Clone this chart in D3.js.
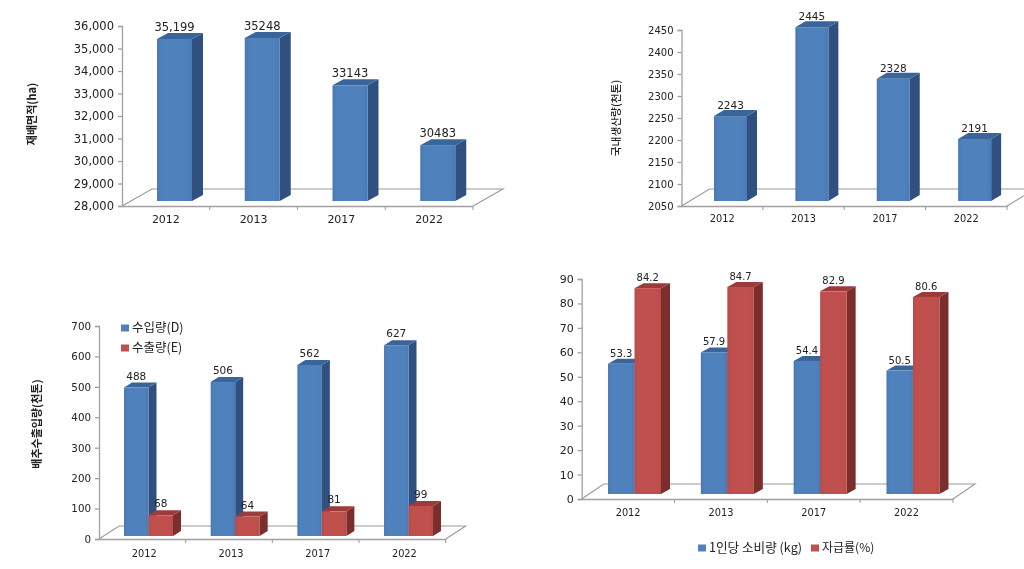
<!DOCTYPE html>
<html>
<head>
<meta charset="utf-8">
<script src="https://cdn.jsdelivr.net/npm/d3@7"></script>
<style>
  html, body { margin: 0; padding: 0; background: #fff; }
  svg { display: block; filter: blur(0.4px); }
  text { fill: #222; font-family: "DejaVu Sans", sans-serif; }
  .kr { font-family: "Noto Sans CJK KR", sans-serif; }
</style>
</head>
<body>
<svg id="chart" width="1024" height="569"></svg>
<script>
const years = ['2012', '2013', '2017', '2022'];

const areaValues = [35199, 35248, 33143, 30483];
const areaLabels = ['35,199', '35248', '33143', '30483'];
const areaTicks = [28000, 29000, 30000, 31000, 32000, 33000, 34000, 35000, 36000];

const outputValues = [2243, 2445, 2328, 2191];
const outputTicks = [2050, 2100, 2150, 2200, 2250, 2300, 2350, 2400, 2450];

const importValues = [488, 506, 562, 627];
const exportValues = [68, 64, 81, 99];
const tradeTicks = [0, 100, 200, 300, 400, 500, 600, 700];

const consumptionValues = [53.3, 57.9, 54.4, 50.5];
const selfSufficiencyValues = [84.2, 84.7, 82.9, 80.6];
const shareTicks = [0, 10, 20, 30, 40, 50, 60, 70, 80, 90];

const blue = { front: '#4f81bd', edge: '#4a7ab4', side: '#30507f', top: '#3a659b', id: 'gradBlue' };
const red = { front: '#c0504d', edge: '#b84b48', side: '#7c2e2c', top: '#9c3b39', id: 'gradRed' };

const svg = d3.select('#chart');
const defs = svg.append('defs');

[blue, red].forEach(c => {
  const g = defs.append('linearGradient').attr('id', c.id);
  g.append('stop').attr('offset', '0%').attr('stop-color', c.edge);
  g.append('stop').attr('offset', '15%').attr('stop-color', c.front);
  g.append('stop').attr('offset', '85%').attr('stop-color', c.front);
  g.append('stop').attr('offset', '100%').attr('stop-color', c.edge);
});

function drawChart(cfg) {
  const g = svg.append('g');

  const x = d3.scaleBand().domain(years).range([cfg.left, cfg.right]);
  const yAxisScale = d3.scaleLinear().domain(cfg.domain).range([cfg.bottom, cfg.top]);
  // bars stand on the floor, a little above the axis line
  const y = d3.scaleLinear().domain(cfg.domain).range([cfg.bottom - cfg.lift, cfg.top - cfg.lift]);

  // floor
  const floor = d3.path();
  floor.moveTo(cfg.left, cfg.bottom);
  floor.lineTo(cfg.left + cfg.floorX, cfg.bottom - cfg.floorY);
  floor.lineTo(cfg.right + cfg.floorX, cfg.bottom - cfg.floorY);
  floor.lineTo(cfg.right, cfg.bottom);
  g.append('path').attr('d', floor.toString())
    .attr('fill', 'none').attr('stroke', '#9a9a9a').attr('stroke-width', 1.1);

  // y axis
  const yAxis = g.append('g')
    .attr('transform', `translate(${cfg.left},0)`)
    .call(d3.axisLeft(yAxisScale).tickValues(cfg.ticks).tickSize(4).tickPadding(4)
      .tickFormat(cfg.commaTicks ? d3.format(',') : d3.format('d')));
  yAxis.selectAll('text').style('font-size', cfg.tickSize + 'px');
  yAxis.selectAll('line, path').attr('stroke', '#a0a0a0').attr('stroke-width', 1.3);

  // x axis, tick marks sit between the categories
  const xAxis = g.append('g')
    .attr('transform', `translate(0,${cfg.bottom})`)
    .call(d3.axisBottom(x).tickSize(0).tickPadding(cfg.xPad));
  xAxis.selectAll('text').style('font-size', cfg.xSize + 'px').attr('dx', cfg.xShift || 0);
  xAxis.select('path').attr('stroke', '#a0a0a0').attr('stroke-width', 1.3);
  xAxis.selectAll('.sep').data(years).join('line').attr('class', 'sep')
    .attr('x1', d => x(d) + x.step()).attr('x2', d => x(d) + x.step())
    .attr('y1', 0).attr('y2', 4)
    .attr('stroke', '#a0a0a0').attr('stroke-width', 1.1);

  // bars
  cfg.series.forEach((s, i) => {
    const barX = d => x(d) + cfg.barOffset + i * cfg.barW;
    const rows = years.map((year, k) => ({ year, value: s.values[k] }));
    const base = y(cfg.domain[0]);
    const bars = g.append('g');

    bars.selectAll('.side').data(rows).join('path').attr('class', 'side')
      .attr('fill', s.color.side)
      .attr('d', d => {
        const x1 = barX(d.year) + cfg.barW, t = y(d.value);
        return `M${x1},${t}l${cfg.dx},${-cfg.dy}V${base - cfg.dy}l${-cfg.dx},${cfg.dy}Z`;
      });
    bars.selectAll('.top').data(rows).join('path').attr('class', 'top')
      .attr('fill', s.color.top)
      .attr('d', d => {
        const x0 = barX(d.year), t = y(d.value);
        return `M${x0},${t}l${cfg.dx},${-cfg.dy}h${cfg.barW}l${-cfg.dx},${cfg.dy}Z`;
      });
    bars.selectAll('.front').data(rows).join('rect').attr('class', 'front')
      .attr('x', d => barX(d.year)).attr('y', d => y(d.value))
      .attr('width', cfg.barW).attr('height', d => base - y(d.value))
      .attr('fill', `url(#${s.color.id})`);
  });

  // value labels go last so they stay on top of neighbouring bars
  cfg.series.forEach((s, i) => {
    const rows = years.map((year, k) => ({ year, value: s.values[k], label: s.labels ? s.labels[k] : String(s.values[k]) }));
    g.append('g').selectAll('text').data(rows).join('text')
      .attr('x', d => x(d.year) + cfg.barOffset + i * cfg.barW + cfg.barW / 2)
      .attr('y', d => y(d.value) - cfg.dy - cfg.labelGap)
      .attr('text-anchor', 'middle')
      .style('font-size', cfg.valueSize + 'px')
      .text(d => d.label);
  });

  // y title
  if (cfg.title) {
    g.append('text').attr('class', 'kr')
      .attr('transform', `translate(${cfg.title.x},${cfg.title.y}) rotate(-90)`)
      .attr('text-anchor', 'middle')
      .style('font-size', cfg.title.size + 'px')
      .style('font-weight', cfg.title.weight)
      .text(cfg.title.text);
  }

  // legend
  (cfg.legend || []).forEach(l => {
    g.append('rect').attr('x', l.x).attr('y', l.y - 3.5).attr('width', 8).attr('height', 7)
      .attr('fill', l.color.front);
    g.append('text').attr('class', 'kr')
      .attr('x', l.x + 11).attr('y', l.y + 4)
      .style('font-size', l.size + 'px')
      .text(l.text);
  });
}

drawChart({
  left: 122, right: 473, top: 26, bottom: 206,
  floorX: 30, floorY: 17, lift: 5,
  domain: [28000, 36000], ticks: areaTicks, commaTicks: true,
  tickSize: 11.5, xSize: 11, xPad: 9, valueSize: 11.5, labelGap: 2,
  barOffset: 35, barW: 35, dx: 11, dy: 6,
  series: [{ values: areaValues, labels: areaLabels, color: blue }],
  title: { text: '재배면적(ha)', x: 36, y: 114, size: 11, weight: 700 }
});

drawChart({
  left: 681.5, right: 1007, top: 30, bottom: 206,
  floorX: 28, floorY: 17, lift: 5,
  domain: [2050, 2450], ticks: outputTicks,
  tickSize: 10, xSize: 9.8, xPad: 9, valueSize: 10.5, labelGap: 1,
  barOffset: 32.5, barW: 33, dx: 10, dy: 6,
  series: [{ values: outputValues, color: blue }],
  title: { text: '국내생산량(천톤)', x: 620, y: 118, size: 10.7, weight: 500 }
});

drawChart({
  left: 99, right: 445.7, top: 326, bottom: 539,
  floorX: 20, floorY: 13, lift: 3,
  domain: [0, 700], ticks: tradeTicks,
  tickSize: 10.3, xSize: 9.8, xPad: 11, xShift: 2, valueSize: 10.5, labelGap: 3,
  barOffset: 25, barW: 24.5, dx: 8, dy: 5,
  series: [
    { values: importValues, color: blue },
    { values: exportValues, color: red }
  ],
  title: { text: '배추수출입량(천톤)', x: 41, y: 424, size: 11, weight: 700 },
  legend: [
    { text: '수입량(D)', x: 121, y: 328, color: blue, size: 12.5 },
    { text: '수출량(E)', x: 121, y: 348, color: red, size: 12.5 }
  ]
});

drawChart({
  left: 581.7, right: 953, top: 279, bottom: 499,
  floorX: 22, floorY: 15, lift: 5,
  domain: [0, 90], ticks: shareTicks,
  tickSize: 11, xSize: 9.8, xPad: 10, valueSize: 10, labelGap: 2,
  barOffset: 26.3, barW: 26.5, dx: 9, dy: 5,
  series: [
    { values: consumptionValues, color: blue },
    { values: selfSufficiencyValues, color: red }
  ],
  legend: [
    { text: '1인당 소비량 (kg)', x: 698, y: 548, color: blue, size: 12.6 },
    { text: '자급률(%)', x: 811, y: 548, color: red, size: 12 }
  ]
});
</script>
</body>
</html>
